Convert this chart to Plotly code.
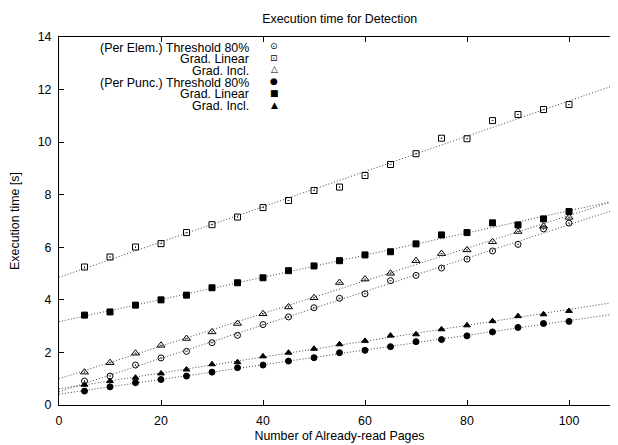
import numpy as np
import plotly.graph_objects as go

pages = [5, 10, 15, 20, 25, 30, 35, 40, 45, 50, 55, 60, 65, 70, 75, 80, 85, 90, 95, 100]

elem_threshold = [0.91, 1.10, 1.52, 1.79, 2.04, 2.37, 2.65, 3.06, 3.35, 3.70,
                  4.06, 4.23, 4.73, 4.93, 5.21, 5.55, 5.86, 6.11, 6.70, 6.92]
elem_linear = [5.25, 5.63, 6.01, 6.14, 6.56, 6.86, 7.15, 7.51, 7.78, 8.16,
               8.29, 8.73, 9.15, 9.56, 10.15, 10.13, 10.82, 11.05, 11.24, 11.43]
elem_incl = [1.25, 1.61, 1.97, 2.27, 2.53, 2.78, 3.10, 3.47, 3.73, 4.08,
             4.66, 4.79, 5.01, 5.49, 5.76, 5.90, 6.21, 6.60, 6.80, 7.14]
punc_threshold = [0.53, 0.69, 0.85, 0.97, 1.10, 1.25, 1.42, 1.52, 1.67, 1.80,
                  1.99, 2.08, 2.22, 2.41, 2.49, 2.63, 2.78, 2.95, 3.10, 3.18]
punc_linear = [3.42, 3.54, 3.80, 4.00, 4.18, 4.46, 4.65, 4.84, 5.11, 5.29,
               5.49, 5.71, 5.83, 6.13, 6.47, 6.56, 6.93, 6.85, 7.08, 7.36]
punc_incl = [0.77, 0.91, 1.04, 1.20, 1.35, 1.55, 1.63, 1.85, 1.99, 2.14,
             2.31, 2.44, 2.64, 2.69, 2.88, 3.03, 3.19, 3.38, 3.45, 3.58]

legend_labels = ["(Per Elem.) Threshold 80%", "Grad. Linear", "Grad. Incl.",
                 "(Per Punc.) Threshold 80%", "Grad. Linear", "Grad. Incl."]
legend_glyphs = ["\u2299", "\u22A1", "\u25B3", "\u25CF", "\u25A0", "\u25B2"]

series = [elem_threshold, elem_linear, elem_incl, punc_threshold, punc_linear, punc_incl]
symbols = ["circle-open-dot", "square-open-dot", "triangle-up-open-dot",
           "circle", "square", "triangle-up"]
sizes = [6, 6, 7, 6, 6, 6]

FONT = "Liberation Sans, Arial, sans-serif"
FS = 12.4
# the page body adds an 8px offset; figure coordinates below compensate for it
OFF = 8
W, H = 618, 445
L, R, T, B = 51, 6, 29, 48
plot_w = W - L - R
plot_h = H - T - B

fig = go.Figure()

x_fit = np.array([0.0, 110.0])
for vals in series:
    k, b = np.polyfit(pages, vals, 1)
    fig.add_trace(go.Scatter(x=x_fit, y=k * x_fit + b, mode="lines",
                             line=dict(color="#444444", width=1, dash="1px,2px"),
                             showlegend=False, hoverinfo="skip"))

for vals, sym, sz, name in zip(series, symbols, sizes, legend_labels):
    fig.add_trace(go.Scatter(x=pages, y=vals, mode="markers", name=name,
                             marker=dict(symbol=sym, size=sz, color="black",
                                         line=dict(color="black", width=1)),
                             showlegend=False))

row_px = [47.5, 59.2, 70.9, 82.6, 94.3, 106.0]  # page pixel rows of the key
for lab, gl, py in zip(legend_labels, legend_glyphs, row_px):
    yy = (H - B - (py - OFF)) / plot_h
    fig.add_annotation(text=lab, xref="paper", yref="paper", x=(251 - OFF - L) / plot_w, y=yy,
                       xanchor="right", yanchor="middle", showarrow=False,
                       font=dict(family=FONT, size=FS, color="black"))
    fig.add_annotation(text=gl, xref="paper", yref="paper", x=(274 - OFF - L) / plot_w, y=yy + 1.5 / plot_h,
                       xanchor="center", yanchor="middle", showarrow=False,
                       font=dict(family="DejaVu Sans", size=9, color="black"))

axis_common = dict(showline=True, linecolor="black", linewidth=1, mirror="ticks",
                   ticks="inside", ticklen=5, tickcolor="black", showgrid=False,
                   zeroline=False, automargin=False, ticklabelstandoff=4,
                   tickfont=dict(family=FONT, size=FS, color="black"))

fig.update_layout(
    width=W, height=H,
    margin=dict(l=L, r=R, t=T, b=B, pad=0),
    paper_bgcolor="white", plot_bgcolor="white",
    showlegend=False,
    title=dict(text="Execution time for Detection", x=(339.7 - OFF) / W, xanchor="center",
               y=1 - (19 - OFF) / H, yanchor="middle",
               font=dict(family=FONT, size=FS, color="black")),
    xaxis=dict(range=[0, 110], tickvals=[0, 20, 40, 60, 80, 100],
               title=dict(text="Number of Already-read Pages", standoff=4,
                          font=dict(family=FONT, size=FS, color="black")),
               **axis_common),
    yaxis=dict(range=[0, 14], dtick=2,
               title=dict(text="Execution time [s]", standoff=15,
                          font=dict(family=FONT, size=FS, color="black")),
               **axis_common),
)

fig.write_html("out.html")
